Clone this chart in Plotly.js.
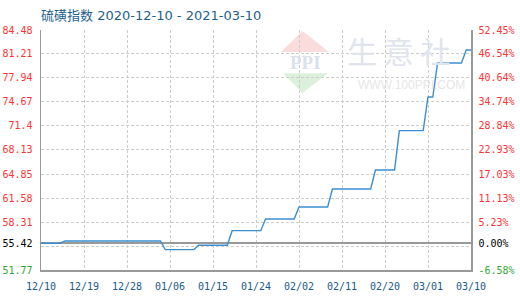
<!DOCTYPE html>
<html>
<head>
<meta charset="utf-8">
<script src="https://cdn.plot.ly/plotly-3.0.1.min.js"></script>
<style>
  html, body { margin: 0; padding: 0; background: #fff; }
  #chart { width: 520px; height: 300px; }
</style>
</head>
<body>
<div id="chart"></div>
<script>
// Sulphur index, step points (date, index value)
var dates = [
  '2020-12-10', '2020-12-14', '2020-12-15', '2021-01-04', '2021-01-05',
  '2021-01-11', '2021-01-12', '2021-01-18', '2021-01-19', '2021-01-25',
  '2021-01-26', '2021-02-01', '2021-02-02', '2021-02-08', '2021-02-09',
  '2021-02-17', '2021-02-18', '2021-02-22', '2021-02-23', '2021-02-28',
  '2021-03-01', '2021-03-02', '2021-03-03', '2021-03-08', '2021-03-09',
  '2021-03-10'
];
var values = [
  55.42, 55.42, 55.73, 55.73, 54.55,
  54.55, 55.15, 55.15, 57.13, 57.13,
  58.72, 58.72, 60.36, 60.36, 62.81,
  62.81, 65.40, 65.40, 70.76, 70.76,
  75.35, 75.35, 79.98, 79.98, 81.75,
  81.75
];
var baseValue = 55.42;

// Axis ticks
var xTickDates = ['2020-12-10', '2020-12-19', '2020-12-28', '2021-01-06', '2021-01-15',
  '2021-01-24', '2021-02-02', '2021-02-11', '2021-02-20', '2021-03-01', '2021-03-10'];
var xTickLabels = ['12/10', '12/19', '12/28', '01/06', '01/15', '01/24', '02/02', '02/11', '02/20', '03/01', '03/10'];
var gridValues = [84.48, 81.21, 77.94, 74.67, 71.40, 68.13, 64.85, 61.58, 58.31, 55.04, 51.77];
var leftTickValues = [84.48, 81.21, 77.94, 74.67, 71.40, 68.13, 64.85, 61.58, 58.31, 55.42, 51.77];
var leftTickLabels = ['84.48', '81.21', '77.94', '74.67', '71.4', '68.13', '64.85', '61.58', '58.31', '55.42', '51.77'];
var rightTickLabels = ['52.45%', '46.54%', '40.64%', '34.74%', '28.84%', '22.93%', '17.03%', '11.13%', '5.23%', '0.00%', '-6.58%'];

var yMin = 51.77, yMax = 84.48;
var RED = '#ff3333', GREEN = '#33aa33', BLACK = '#000000';

function pct(v) { return (v / baseValue - 1) * 100; }
function colourFor(v) {
  if (Math.abs(v - baseValue) < 1e-9) return BLACK;
  return v > baseValue ? RED : GREEN;
}
function coloured(text, v) {
  return '<span style="color:' + colourFor(v) + '">' + text + '</span>';
}

var rightTickValues = leftTickValues.map(pct);

var traces = [
  // invisible companions so the grid axis and the percentage axis are drawn
  {
    x: dates, y: values, yaxis: 'y3', type: 'scatter', mode: 'lines',
    line: { color: 'rgba(0,0,0,0)', width: 0 }, hoverinfo: 'skip', showlegend: false
  },
  {
    x: dates, y: values.map(pct), yaxis: 'y2', type: 'scatter', mode: 'lines',
    line: { color: 'rgba(0,0,0,0)', width: 0 }, hoverinfo: 'skip', showlegend: false
  },
  {
    x: dates, y: values, yaxis: 'y', type: 'scatter', mode: 'lines',
    line: { color: '#3b8fd1', width: 1.4 }, showlegend: false
  }
];

var tickFont = { family: 'DejaVu Sans Mono, Liberation Mono, monospace', size: 10, color: '#000' };

var layout = {
  width: 520, height: 300,
  margin: { l: 41, r: 49, t: 30, b: 30, pad: 0 },
  paper_bgcolor: '#ffffff', plot_bgcolor: '#ffffff',
  showlegend: false,
  title: {
    text: '硫磺指数 2020-12-10 - 2021-03-10',
    font: { family: 'DejaVu Sans, Noto Sans CJK SC, sans-serif', size: 13, color: '#1f5f8e' },
    x: 0, xref: 'paper', xanchor: 'left',
    y: 0.95, yref: 'container', yanchor: 'middle'
  },
  xaxis: {
    type: 'date',
    range: [xTickDates[0], xTickDates[xTickDates.length - 1]],
    tickmode: 'array', tickvals: xTickDates, ticktext: xTickLabels,
    tickfont: { family: tickFont.family, size: 10, color: '#1a5a8c' },
    ticks: '', ticklabelstandoff: 6,
    showgrid: true, gridcolor: '#cccccc', griddash: '3px,2px', gridwidth: 1,
    showline: true, linecolor: '#999999', linewidth: 1.5,
    zeroline: false, fixedrange: true
  },
  yaxis: {
    range: [yMin, yMax],
    tickmode: 'array', tickvals: leftTickValues,
    ticktext: leftTickLabels.map(function (t, i) { return coloured(t, leftTickValues[i]); }),
    tickfont: tickFont, ticks: '', ticklabelstandoff: 5,
    showgrid: false, zeroline: false,
    showline: true, linecolor: '#999999', linewidth: 1.5,
    fixedrange: true
  },
  yaxis3: {
    range: [yMin, yMax], overlaying: 'y', side: 'left',
    tickmode: 'array', tickvals: gridValues, showticklabels: false, ticks: '',
    showgrid: true, gridcolor: '#cccccc', griddash: '3px,2px', gridwidth: 1,
    zeroline: false, showline: false, fixedrange: true
  },
  yaxis2: {
    range: [pct(yMin), pct(yMax)], overlaying: 'y', side: 'right',
    tickmode: 'array', tickvals: rightTickValues,
    ticktext: rightTickLabels.map(function (t, i) { return coloured(t, leftTickValues[i]); }),
    tickfont: tickFont, ticks: '', ticklabelstandoff: 4,
    showgrid: false,
    zeroline: true, zerolinecolor: '#999999', zerolinewidth: 1.5,
    showline: true, linecolor: '#999999', linewidth: 1.5,
    fixedrange: true
  },
  shapes: [
    // logo: pink roof and green base
    { type: 'path', xref: 'paper', yref: 'paper', layer: 'below',
      path: 'M 0.558 0.908 L 0.608 0.996 L 0.670 0.908 Z',
      fillcolor: '#fadcdc', line: { width: 0 } },
    { type: 'path', xref: 'paper', yref: 'paper', layer: 'below',
      path: 'M 0.563 0.820 L 0.668 0.820 L 0.608 0.738 Z',
      fillcolor: '#dcf0dc', line: { width: 0 } }
  ],
  annotations: [
    { text: '<b>PPI</b>', xref: 'paper', yref: 'paper', x: 0.614, y: 0.865,
      showarrow: false, xanchor: 'center', yanchor: 'middle',
      font: { family: 'Liberation Serif, serif', size: 19, color: '#d9e0ee' } },
    { text: '生 意 社', xref: 'paper', yref: 'paper', x: 0.955, y: 0.915,
      showarrow: false, xanchor: 'right', yanchor: 'middle',
      font: { family: 'Noto Sans CJK SC, sans-serif', size: 30, color: '#dfe4ee' } },
    { text: 'WWW.100PPI.COM', xref: 'paper', yref: 'paper', x: 0.99, y: 0.77,
      showarrow: false, xanchor: 'right', yanchor: 'middle',
      font: { family: 'Liberation Sans, sans-serif', size: 12, color: '#e6e6e6' } }
  ]
};

Plotly.newPlot('chart', traces, layout, { displayModeBar: false, staticPlot: true });
</script>
</body>
</html>
